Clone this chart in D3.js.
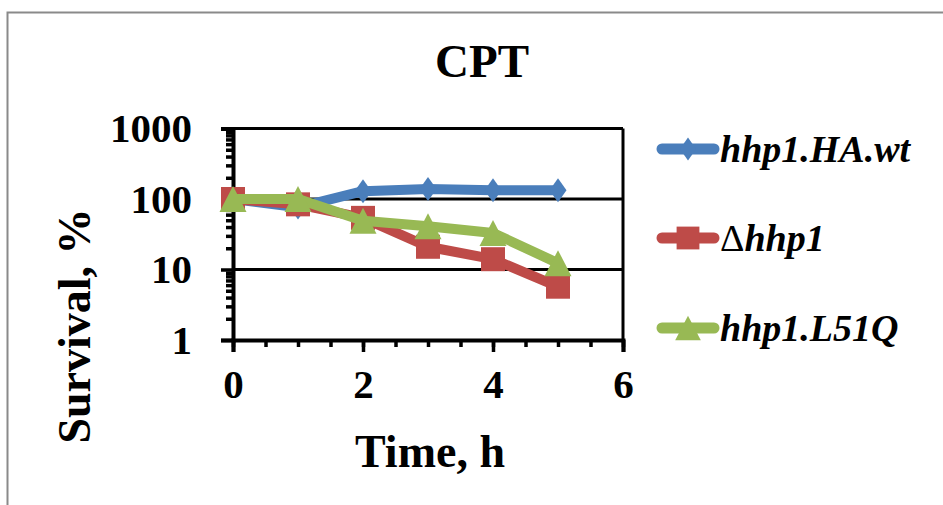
<!DOCTYPE html>
<html>
<head>
<meta charset="utf-8">
<script src="https://cdn.jsdelivr.net/npm/d3@7"></script>
<style>
  html, body { margin: 0; padding: 0; background: #fff; }
  svg { display: block; }
  text { font-family: "Liberation Serif", "Times New Roman", serif; fill: #000; }
</style>
</head>
<body>
<svg id="chart" width="943" height="505"></svg>
<script>
// Survival over time under CPT treatment, three strains
const hours = [0, 1, 2, 3, 4, 5];
const wtValues = [100, 76, 129, 139, 133, 133];
const deltaValues = [100, 84, 54, 21, 14, 5.7];
const l51qValues = [100, 100, 49, 41, 33, 12.3];
const seriesNames = ["hhp1.HA.wt", "\u0394hhp1", "hhp1.L51Q"];
const seriesColors = ["#4a7ebb", "#be4b48", "#98b954"];
const seriesMarkers = ["diamond", "square", "triangle"];
const xMajorTicks = [0, 2, 4, 6];
const yMajorTicks = [1, 10, 100, 1000];

const series = [wtValues, deltaValues, l51qValues].map((vals, i) => ({
  name: seriesNames[i],
  color: seriesColors[i],
  marker: seriesMarkers[i],
  points: hours.map((h, j) => ({ x: h, y: vals[j] }))
}));

const svg = d3.select("#chart");

// outer frame of the chart area
svg.append("rect")
  .attr("x", 7.5).attr("y", 12.5)
  .attr("width", 960).attr("height", 520)
  .attr("fill", "#fff")
  .attr("stroke", "#8a8a8a").attr("stroke-width", 2);

const x = d3.scaleLinear().domain([0, 6]).range([233, 623]);
const y = d3.scaleLog().domain([1, 1000]).range([340, 128.5]);

// title
svg.append("text")
  .attr("x", 482).attr("y", 77)
  .attr("text-anchor", "middle")
  .attr("font-size", 47).attr("font-weight", "bold")
  .text("CPT");

// horizontal gridlines at 10 and 100, frame top at 1000
const grid = svg.append("g");
grid.selectAll("line")
  .data(yMajorTicks.slice(1))
  .join("line")
  .attr("x1", x(0)).attr("x2", x(6))
  .attr("y1", d => y(d)).attr("y2", d => y(d))
  .attr("stroke", "#000").attr("stroke-width", 3);
grid.append("line")
  .attr("x1", x(6)).attr("x2", x(6))
  .attr("y1", y(1000)).attr("y2", y(1))
  .attr("stroke", "#000").attr("stroke-width", 3);

// x axis: minor ticks every half hour, labelled major ticks every 2 h
const xMinor = d3.range(0, 6.01, 0.5);
svg.append("g")
  .attr("transform", `translate(0,${y(1)})`)
  .call(d3.axisBottom(x).tickValues(xMinor).tickSize(7).tickFormat(""))
  .call(g => g.select(".domain").remove())
  .call(g => g.selectAll(".tick line").attr("stroke-width", 3.5));

const xAxisG = svg.append("g")
  .attr("transform", `translate(0,${y(1)})`)
  .call(d3.axisBottom(x).tickValues(xMajorTicks).tickSize(12).tickPadding(33).tickFormat(d3.format("d")));
xAxisG.select(".domain").attr("stroke-width", 4);
xAxisG.selectAll(".tick line").attr("stroke-width", 3.5);
xAxisG.selectAll(".tick text")
  .attr("font-family", "Liberation Serif, serif")
  .attr("font-size", 41).attr("font-weight", "bold")
  .attr("dy", "0.32em");

// y axis: log decades with minor ticks
const yMinor = [];
[1, 10, 100].forEach(dec => { for (let k = 2; k <= 9; k++) yMinor.push(dec * k); });
svg.append("g")
  .attr("transform", `translate(${x(0)},0)`)
  .call(d3.axisLeft(y).tickValues(yMinor).tickSize(7).tickFormat(""))
  .call(g => g.select(".domain").remove())
  .call(g => g.selectAll(".tick line").attr("stroke-width", 3.5));

const yAxisG = svg.append("g")
  .attr("transform", `translate(${x(0)},0)`)
  .call(d3.axisLeft(y).tickValues(yMajorTicks).tickSize(12).tickPadding(29).tickFormat(d3.format("d")));
yAxisG.select(".domain").attr("stroke-width", 4);
yAxisG.selectAll(".tick line").attr("stroke-width", 3.5);
yAxisG.selectAll(".tick text")
  .attr("font-family", "Liberation Serif, serif")
  .attr("font-size", 41).attr("font-weight", "bold");

// axis titles
svg.append("text")
  .attr("x", 430).attr("y", 467)
  .attr("text-anchor", "middle")
  .attr("font-size", 46).attr("font-weight", "bold")
  .text("Time, h");
svg.append("text")
  .attr("transform", "translate(90,326) rotate(-90)")
  .attr("text-anchor", "middle")
  .attr("font-size", 46).attr("font-weight", "bold")
  .text("Survival, %");

// marker shapes
function markerPath(kind, s) {
  if (kind === "diamond") {
    const w = 8.5 * s, h = 12 * s;
    return `M0,${-h}L${w},0L0,${h}L${-w},0Z`;
  }
  if (kind === "square") {
    const a = 12 * s;
    return `M${-a},${-a}H${a}V${a}H${-a}Z`;
  }
  const w = 13.5 * s, h = 13 * s;
  return `M0,${-h}L${w},${h}L${-w},${h}Z`;
}

const line = d3.line().x(d => x(d.x)).y(d => y(d.y));

series.forEach(s => {
  const g = svg.append("g");
  g.append("path")
    .datum(s.points)
    .attr("d", line)
    .attr("fill", "none")
    .attr("stroke", s.color)
    .attr("stroke-width", 10)
    .attr("stroke-linejoin", "round")
    .attr("stroke-linecap", "round");
  g.selectAll("path.mk")
    .data(s.points)
    .join("path")
    .attr("class", "mk")
    .attr("transform", d => `translate(${x(d.x)},${y(d.y)})`)
    .attr("d", markerPath(s.marker, 1))
    .attr("fill", s.color);
});

// legend; a leading Greek delta is set upright, the gene name in italics
const legend = svg.append("g");
const legendY = [149, 238, 328];
series.forEach((s, i) => {
  const row = legend.append("g").attr("transform", `translate(0,${legendY[i]})`);
  row.append("line")
    .attr("x1", 662).attr("x2", 714)
    .attr("stroke", s.color).attr("stroke-width", 11)
    .attr("stroke-linecap", "round");
  row.append("path")
    .attr("transform", "translate(688,0)")
    .attr("d", markerPath(s.marker, 0.95))
    .attr("fill", s.color);
  const t = row.append("text")
    .attr("x", 720).attr("dy", "0.35em")
    .attr("font-size", 38).attr("font-weight", "bold");
  const name = s.name;
  if (name.startsWith("\u0394")) {
    t.append("tspan").attr("font-weight", "normal").text("\u0394");
    t.append("tspan").attr("font-style", "italic").text(name.slice(1));
  } else {
    t.append("tspan").attr("font-style", "italic").text(name);
  }
});
</script>
</body>
</html>
